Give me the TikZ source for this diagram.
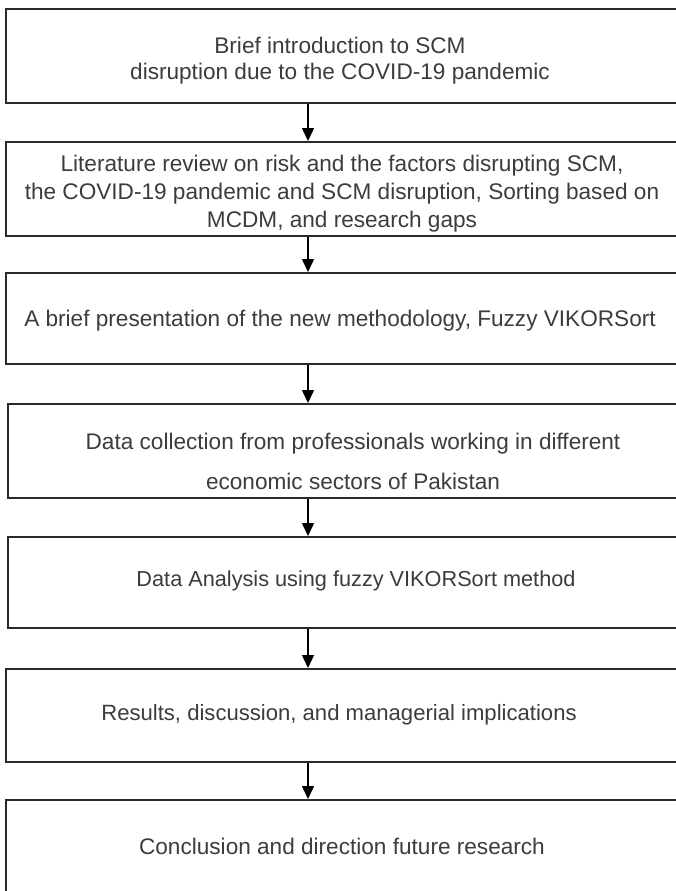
\documentclass[tikz,border=0pt]{standalone}
\usepackage{fontspec}
\setmainfont{Liberation Sans}
\usetikzlibrary{arrows.meta}
\definecolor{txtgray}{HTML}{3C3C3C}
\definecolor{linegray}{HTML}{2A2A2A}
\begin{document}
\begin{tikzpicture}[x=1pt,y=-1pt,
  stagebox/.style={draw=linegray, line width=1.8pt, rectangle, inner sep=0pt},
  stagetext/.style={text=txtgray, font=\fontsize{22.6}{28}\selectfont, align=center, inner sep=0pt},
  flow/.style={draw=black, line width=1.5pt, -{Triangle[length=13pt,width=12pt]}}]
\useasboundingbox (0,0) rectangle (676,891);
\fill[white] (0,0) rectangle (676,891);
\clip (0,0) rectangle (676,891);

% stage boxes (they run past the right and bottom edges)
\node[stagebox, minimum width=678pt, minimum height=94pt, anchor=north west] (b1) at (5,8) {};
\node[stagebox, minimum width=678pt, minimum height=94pt, anchor=north west] (b2) at (5,141) {};
\node[stagebox, minimum width=678pt, minimum height=91pt, anchor=north west] (b3) at (5,272) {};
\node[stagebox, minimum width=676pt, minimum height=94pt, anchor=north west] (b4) at (7,403) {};
\node[stagebox, minimum width=676pt, minimum height=91pt, anchor=north west] (b5) at (7,536) {};
\node[stagebox, minimum width=678pt, minimum height=93pt, anchor=north west] (b6) at (5,668) {};
\node[stagebox, minimum width=678pt, minimum height=110pt, anchor=north west] (b7) at (5,799) {};

% stage texts
\node[stagetext, font=\fontsize{22.6}{26}\selectfont] (t1) at (340,61) {Brief introduction to SCM\\disruption due to the COVID-19 pandemic};
\node[stagetext] (t2) at (342,194) {Literature review on risk and the factors disrupting SCM,\\the COVID-19 pandemic and SCM disruption, Sorting based on\\MCDM, and research gaps};
\node[stagetext] (t3) at (340,321) {A brief presentation of the new methodology, Fuzzy VIKORSort};
\node[stagetext, font=\fontsize{22.6}{40}\selectfont] (t4) at (353,461) {Data collection from professionals working in different\\economic sectors of Pakistan};
\node[stagetext, font=\fontsize{21.7}{28}\selectfont] (t5) at (356,581) {Data Analysis using fuzzy VIKORSort method};
\node[stagetext, font=\fontsize{22.1}{28}\selectfont] (t6) at (339,715) {Results, discussion, and managerial implications};
\node[stagetext] (t7) at (342,846) {Conclusion and direction future research};

% connectors between consecutive stages
\coordinate (ax) at (308,0);
\foreach \a/\b in {b1/b2,b2/b3,b3/b4,b4/b5,b5/b6,b6/b7}
  \draw[flow] (\a.south -| ax) -- (\b.north -| ax);
\end{tikzpicture}
\end{document}
